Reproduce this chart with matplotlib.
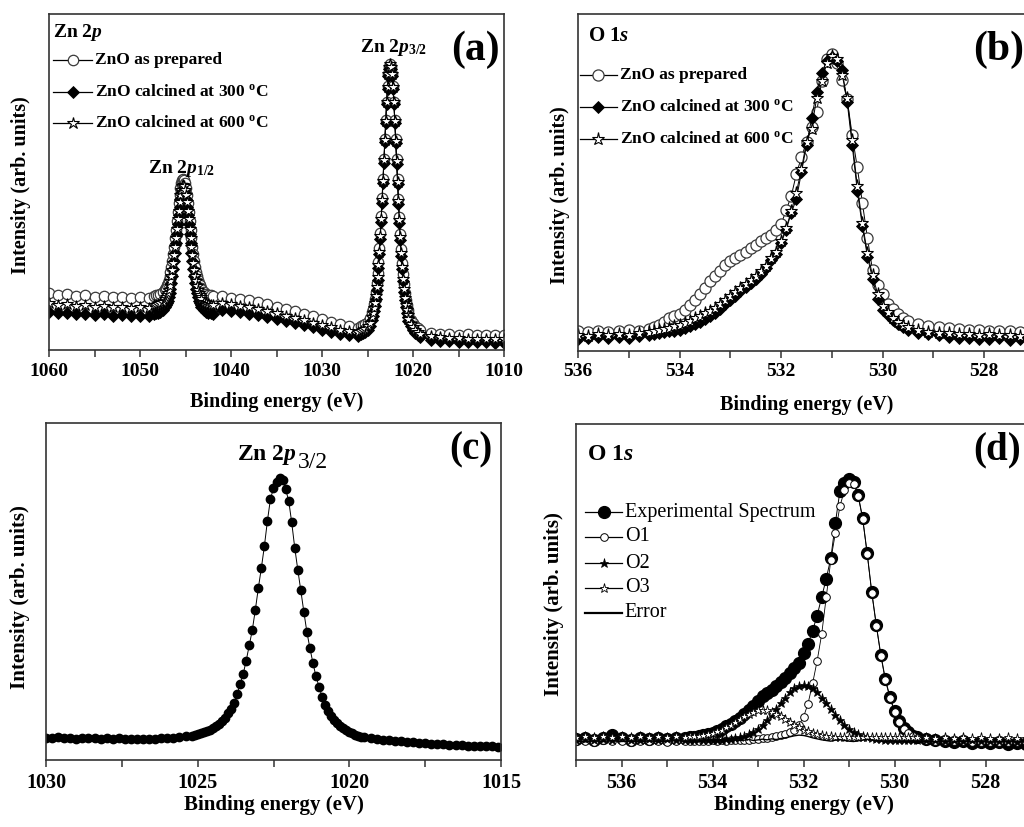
import numpy as np
import matplotlib
matplotlib.use('Agg')
import matplotlib.pyplot as plt
from matplotlib.ticker import MultipleLocator

plt.rcParams['font.family'] = 'Liberation Serif'
plt.rcParams['font.weight'] = 'bold'
plt.rcParams['mathtext.fontset'] = 'custom'
plt.rcParams['mathtext.rm'] = 'Liberation Serif:bold'
plt.rcParams['mathtext.it'] = 'Liberation Serif:italic:bold'
plt.rcParams['mathtext.bf'] = 'Liberation Serif:bold'

# ---------------- (a) Zn 2p survey, three samples ----------------
# coarse steps on the background, finer steps across the two peaks
be_a = np.concatenate([np.arange(1060, 1048.5, -1),
                       np.arange(1048.5, 1047.4, -0.25),
                       np.arange(1047.25, 1043.2, -0.1),
                       np.arange(1043.0, 1041.9, -0.25),
                       np.arange(1041, 1025.9, -1),
                       np.arange(1025.75, 1024.7, -0.25),
                       np.arange(1024.5, 1020.45, -0.1),
                       np.arange(1020.25, 1019.2, -0.25),
                       np.arange(1018, 1009.5, -1)])

zn_prepared = [16.9, 16.5, 16.7, 16.2, 16.4, 15.9, 16.1, 15.7, 15.9, 15.5, 15.7, 15.5,
               16.2, 16.4, 16.5, 16.8, 17.3,
               18.1, 18.6, 19.2, 19.9, 20.8, 21.9, 23.3, 24.8, 26.6, 28.6,
               30.8, 33.3, 35.8, 38.5, 41.1, 43.7, 46.1, 48.1, 49.7, 50.7,
               51.0,
               50.7, 49.7, 48.1, 46.1, 43.7, 41.1, 38.5, 35.8, 33.3, 30.8,
               28.6, 26.6, 24.8, 23.3, 21.9, 20.8, 19.9, 19.2, 18.6, 18.1,
               17.3, 16.8, 16.5, 16.4, 16.2,
               16.0, 15.6, 15.2, 14.8, 14.2, 13.6, 12.9, 12.2, 11.5, 10.8, 10.0, 9.2, 8.4, 7.6, 7.0, 6.6,
               7.1, 7.4, 7.7, 8.4, 9.4,
               11.2, 12.3, 13.7, 15.3, 17.4, 19.9, 22.8, 26.3, 30.3, 34.8,
               39.8, 45.2, 51.0, 56.9, 62.9, 68.6, 73.9, 78.5, 82.0, 84.2,
               85.0,
               84.2, 82.0, 78.5, 73.9, 68.5, 62.8, 56.8, 50.8, 45.0, 39.6,
               34.6, 30.0, 26.0, 22.5, 19.6, 17.1, 15.0, 13.4, 12.0, 10.9,
               9.0, 8.0, 7.2, 6.6, 6.1,
               5.2, 4.9, 4.8, 4.6, 4.7, 4.5, 4.6, 4.4, 4.5]

zn_300 = [11.3, 10.9, 11.1, 10.7, 10.8, 10.4, 10.6, 10.2, 10.4, 10.0, 10.2, 10.0,
          10.8, 11.0, 11.1, 11.4, 11.9,
          12.8, 13.3, 13.9, 14.7, 15.7, 16.9, 18.3, 20.0, 21.9, 24.0,
          26.4, 29.0, 31.8, 34.6, 37.4, 40.2, 42.7, 44.9, 46.6, 47.6,
          48.0,
          47.6, 46.6, 44.9, 42.7, 40.2, 37.4, 34.6, 31.8, 29.0, 26.4,
          24.0, 21.9, 20.0, 18.3, 16.9, 15.7, 14.7, 13.9, 13.3, 12.8,
          11.9, 11.4, 11.1, 11.0, 10.8,
          12.0, 11.6, 11.2, 10.8, 10.3, 9.7, 9.1, 8.5, 7.9, 7.3, 6.7, 6.1, 5.5, 4.9, 4.5, 4.2,
          4.7, 5.0, 5.4, 6.1, 7.1,
          8.9, 10.1, 11.5, 13.2, 15.3, 17.8, 20.8, 24.4, 28.5, 33.1,
          38.2, 43.8, 49.7, 55.8, 61.9, 67.7, 73.2, 77.8, 81.4, 83.7,
          84.5,
          83.7, 81.4, 77.8, 73.1, 67.5, 61.6, 55.5, 49.4, 43.5, 37.9,
          32.8, 28.1, 24.0, 20.4, 17.4, 14.8, 12.8, 11.1, 9.7, 8.6,
          7.0, 5.9, 5.1, 4.4, 3.9,
          3.1, 2.8, 2.6, 2.5, 2.4, 2.3, 2.3, 2.2, 2.2]

zn_600 = [13.9, 13.5, 13.7, 13.2, 13.4, 12.9, 13.1, 12.7, 12.9, 12.5, 12.7, 12.5,
          13.3, 13.4, 13.6, 13.9, 14.3,
          15.2, 15.7, 16.3, 17.1, 18.0, 19.1, 20.5, 22.1, 23.9, 26.0,
          28.3, 30.8, 33.4, 36.1, 38.9, 41.5, 43.9, 46.0, 47.6, 48.7,
          49.0,
          48.7, 47.6, 46.0, 43.9, 41.5, 38.9, 36.1, 33.4, 30.8, 28.3,
          26.0, 23.9, 22.1, 20.5, 19.1, 18.0, 17.1, 16.3, 15.7, 15.2,
          14.3, 13.9, 13.6, 13.4, 13.3,
          14.0, 13.6, 13.2, 12.8, 12.2, 11.6, 10.9, 10.2, 9.5, 8.8, 8.1, 7.4, 6.7, 6.0, 5.6, 5.3,
          5.7, 6.0, 6.3, 7.1, 8.1,
          9.9, 11.0, 12.4, 14.1, 16.2, 18.7, 21.7, 25.2, 29.3, 33.9,
          39.0, 44.5, 50.4, 56.4, 62.5, 68.3, 73.7, 78.4, 82.0, 84.2,
          85.0,
          84.2, 82.0, 78.4, 73.7, 68.2, 62.3, 56.2, 50.1, 44.2, 38.6,
          33.5, 28.8, 24.7, 21.1, 18.1, 15.5, 13.4, 11.8, 10.4, 9.3,
          7.6, 6.7, 5.9, 5.3, 4.9,
          4.1, 3.8, 3.6, 3.5, 3.4, 3.3, 3.3, 3.2, 3.2]

# ---------------- (b) O 1s, three samples ----------------
be_b = np.concatenate([np.arange(536.0, 534.55, -0.2),
                       np.arange(534.5, 529.45, -0.1),
                       np.arange(529.3, 526.0, -0.2)])

o_prepared = [5.8, 5.5, 6.0, 5.7, 5.9, 6.2, 6.0, 6.6,
              7.0, 7.6, 8.6, 9.9, 10.3, 11.0, 12.2, 13.6, 15.2, 16.8,
              18.8, 20.8, 22.3, 23.7, 25.4, 26.7, 27.6, 28.5, 29.5, 30.5,
              31.6, 32.5, 33.4, 34.5, 35.9, 37.6, 41.8, 46.0, 52.5, 57.5,
              62.0, 66.5, 71.0, 80.0, 86.5, 88.0, 85.5, 80.5, 74.8, 64.0,
              54.5, 44.0, 33.5, 24.0, 19.5, 16.8, 14.0, 12.4, 11.0, 9.8,
              9.0,
              7.9, 7.3, 7.0, 6.9, 6.5, 6.3, 6.1, 6.0, 5.8, 6.0, 5.7, 5.6, 5.8, 5.5, 5.6, 5.4, 5.5]

o_300 = [3.5, 3.8, 4.2, 3.9, 4.3, 4.0, 4.4, 4.6,
         5.0, 5.4, 5.6, 5.8, 6.0, 6.3, 6.8, 7.4, 8.0, 8.7,
         9.6, 10.5, 11.4, 12.6, 13.8, 15.0, 16.4, 17.8, 19.0, 20.2,
         21.4, 22.8, 24.5, 27.0, 28.8, 32.0, 36.0, 41.0, 45.0, 53.0,
         61.0, 69.0, 77.0, 82.5, 86.0, 87.2, 86.0, 83.5, 74.0, 61.0,
         47.5, 37.0, 28.0, 21.5, 15.5, 12.2, 10.6, 9.2, 8.0, 7.0,
         6.2,
         5.4, 5.0, 4.6, 4.2, 4.0, 3.8, 3.7, 3.5, 3.9, 3.4, 3.6, 3.3, 3.6, 3.2, 3.5, 3.3, 3.4]

o_600 = [4.8, 4.5, 5.0, 4.6, 5.1, 4.8, 5.2, 5.5,
         5.8, 6.2, 6.5, 6.9, 7.3, 7.8, 8.4, 9.0, 9.7, 10.4,
         11.2, 12.0, 12.9, 13.9, 15.0, 16.2, 17.5, 18.8, 20.0, 21.2,
         22.4, 23.8, 25.3, 27.5, 29.5, 32.5, 36.5, 41.5, 47.0, 54.0,
         62.0, 66.0, 75.0, 80.0, 85.5, 87.5, 86.5, 82.0, 75.0, 62.5,
         49.0, 38.0, 29.0, 22.5, 17.0, 13.5, 11.5, 9.8, 8.6, 7.7,
         7.0,
         6.2, 5.7, 5.4, 5.2, 5.0, 4.9, 4.7, 4.9, 4.6, 4.8, 4.5, 4.7, 4.4, 4.6, 4.4, 4.5, 4.3]

# ---------------- (c) Zn 2p3/2 high resolution ----------------
be_c = np.concatenate([np.arange(1030.0, 1025.1, -0.2),
                       np.arange(1025.1, 1019.45, -0.1),
                       np.arange(1019.3, 1015.0, -0.2)])

zn32 = [6.6, 6.4, 6.7, 6.5, 6.6, 6.3, 6.5, 6.6, 6.4, 6.2, 6.5, 6.3, 6.4,
        6.2, 6.3, 6.1, 6.3, 6.2, 6.3, 6.4, 6.5, 6.6, 6.8, 7.0, 7.2,
        7.4, 7.6, 7.9, 8.2, 8.6, 9.0, 9.5, 10.1, 10.8, 11.6,
        12.6, 13.8, 15.2, 17.0, 19.5, 22.5, 25.5, 29.5, 34.0, 38.5,
        44.5, 51.0, 57.0, 63.5, 71.0, 77.5, 80.6, 82.5,
        83.7,
        83.0, 80.3, 77.0, 70.5, 63.0, 56.5, 50.3, 44.0, 38.0, 33.2,
        28.8, 24.8, 21.8, 18.8, 16.4, 14.6, 13.1, 11.9, 10.9, 10.1,
        9.4, 8.8, 8.3, 7.9, 7.5, 7.2, 6.9, 6.7,
        6.4, 6.2, 6.0, 5.8, 5.6, 5.5, 5.3, 5.2, 5.0, 4.9, 4.8,
        4.7, 4.6, 4.5, 4.5, 4.4, 4.3, 4.3, 4.2, 4.1, 4.1, 4.0]

# ---------------- (d) O 1s deconvolution ----------------
be_d = np.concatenate([np.arange(537.0, 534.55, -0.2),
                       np.arange(534.5, 529.45, -0.1),
                       np.arange(529.3, 526.0, -0.2)])

o_exp = [6.2, 6.6, 6.0, 6.5, 7.3, 6.4, 6.1, 6.5, 6.2, 6.4, 6.3, 6.6, 6.5,
         6.7, 6.8, 7.0, 7.3, 7.7, 8.1, 8.6, 9.2, 10.0, 10.8,
         11.7, 12.6, 13.7, 14.9, 16.2, 17.6, 18.9, 19.8, 20.8, 21.9,
         23.1, 24.3, 25.8, 27.3, 29.0, 31.8, 34.5, 38.5, 43.0, 48.5,
         54.0, 60.0, 70.5, 80.0, 82.5, 83.6, 82.8, 79.0, 72.0, 61.5,
         50.0, 40.2, 31.3, 24.0, 18.8, 14.6, 11.6, 9.6, 8.2, 7.2,
         6.7,
         6.2, 5.9, 5.7, 5.4, 5.6, 5.2, 5.5, 5.0, 5.3, 4.9, 5.2, 4.8, 5.1, 4.7, 5.0, 4.6, 4.9]

o1 = [5.6, 5.8, 5.5, 5.9, 5.6, 5.7, 5.5, 5.8, 5.6, 5.7, 5.5, 5.8, 5.6,
      5.7, 5.8, 5.6, 5.8, 5.7, 5.9, 5.8, 5.9, 5.8, 6.0,
      5.9, 6.0, 6.1, 6.1, 6.2, 6.3, 6.4, 6.6, 6.8, 7.0,
      7.3, 7.7, 8.2, 9.0, 10.4, 12.8, 16.8, 22.8, 29.5, 37.5,
      48.5, 59.5, 67.5, 75.5, 80.3, 82.5, 82.2, 78.6, 71.8, 61.3,
      49.8, 40.0, 31.0, 23.7, 18.5, 14.3, 11.3, 9.3, 7.9, 7.0,
      6.5,
      6.1, 5.8, 5.7, 5.6, 5.6, 5.5, 5.5, 5.4, 5.4, 5.4, 5.3, 5.3, 5.3, 5.2, 5.2, 5.2, 5.1]

o2 = [6.0, 6.3, 5.9, 6.2, 6.0, 6.4, 6.1, 5.9, 6.2, 6.0, 6.3, 6.1, 6.0,
      6.1, 6.0, 6.2, 6.0, 6.1, 6.0, 6.1, 6.1, 6.2, 6.3,
      6.5, 6.7, 7.1, 7.6, 8.4, 9.3, 10.5, 11.9, 13.5, 15.2,
      17.0, 18.6, 20.1, 21.3, 22.0, 22.3, 22.0, 21.3, 20.1, 18.6,
      17.0, 15.2, 13.5, 11.9, 10.5, 9.3, 8.4, 7.6, 7.1, 6.7,
      6.5, 6.3, 6.2, 6.1, 6.0, 6.1, 6.0, 5.9, 6.0, 5.9,
      6.0,
      5.9, 6.0, 5.8, 5.9, 5.7, 5.9, 5.8, 5.6, 5.8, 5.7, 5.5, 5.7, 5.6, 5.5, 5.6, 5.4, 5.5]

o3 = [6.9, 7.1, 6.8, 7.0, 6.9, 7.2, 6.8, 7.0, 6.9, 7.1, 6.8, 7.0, 6.9,
      7.0, 7.0, 7.2, 7.4, 7.6, 8.0, 8.5, 9.0, 9.7, 10.5,
      11.4, 12.2, 13.1, 13.8, 14.4, 14.8, 14.9, 14.8, 14.4, 13.8,
      13.1, 12.2, 11.4, 10.5, 9.7, 9.0, 8.5, 8.0, 7.6, 7.4,
      7.2, 7.0, 6.9, 6.9, 6.8, 6.9, 6.8, 6.9, 6.8, 6.8,
      6.9, 6.8, 6.7, 6.8, 6.7, 6.8, 6.7, 6.8, 6.7, 6.7,
      6.8,
      6.7, 6.6, 6.8, 6.6, 6.7, 6.5, 6.7, 6.6, 6.5, 6.7, 6.5, 6.6, 6.4, 6.6, 6.5, 6.4, 6.5]

o_err = [5.6, 5.4, 5.7, 5.5, 5.8, 5.5, 5.6, 5.4, 5.7, 5.5, 5.6, 5.8, 5.5,
         5.6, 5.7, 5.5, 5.8, 5.6, 5.7, 5.9, 5.6, 5.8, 5.7,
         6.0, 5.8, 5.9, 6.1, 5.8, 6.0, 6.2, 6.0, 6.3, 6.1,
         6.4, 6.6, 6.9, 7.2, 7.4, 7.3, 7.0, 6.6, 6.3, 6.0,
         5.8, 5.6, 5.9, 6.1, 5.8, 5.6, 5.5, 5.7, 5.9, 6.2,
         6.0, 5.8, 5.6, 5.5, 5.7, 5.6, 5.4, 5.6, 5.5, 5.7,
         5.5,
         5.6, 5.4, 5.5, 5.3, 5.6, 5.4, 5.5, 5.3, 5.5, 5.4, 5.6, 5.3, 5.5, 5.4, 5.3, 5.5, 5.4]

for name, xs, ys in [('zn_prepared', be_a, zn_prepared), ('zn_300', be_a, zn_300),
                     ('zn_600', be_a, zn_600), ('o_prepared', be_b, o_prepared),
                     ('o_300', be_b, o_300), ('o_600', be_b, o_600), ('zn32', be_c, zn32),
                     ('o_exp', be_d, o_exp), ('o1', be_d, o1), ('o2', be_d, o2),
                     ('o3', be_d, o3), ('o_err', be_d, o_err)]:
    if len(xs) != len(ys):
        raise ValueError(f'{name}: {len(xs)} energies, {len(ys)} values')

# marker styles
open_circle = dict(marker='o', mfc='white', mec='#3a3a3a', mew=0.9)
diamond = dict(marker='D', mfc='black', mec='black', mew=0.6)
open_star = dict(marker='*', mfc='white', mec='black', mew=0.8)

fig = plt.figure(figsize=(10.24, 8.27), dpi=100)

def make_axes(rect_px, xlim, major, minor, tick_size):
    l, t, r, b = rect_px
    ax = fig.add_axes([l / 1024, (827 - b) / 827, (r - l) / 1024, (b - t) / 827])
    ax.set_xlim(*xlim)
    ax.set_ylim(0, 100)
    ax.set_yticks([])
    ax.xaxis.set_major_locator(MultipleLocator(major))
    ax.xaxis.set_minor_locator(MultipleLocator(minor))
    ax.tick_params(axis='x', which='both', direction='out', length=5, width=1.1,
                   color='#333333', labelsize=tick_size, pad=4)
    for sp in ax.spines.values():
        sp.set_linewidth(1.2)
        sp.set_color('#333333')
    return ax

def axis_labels(ax, xl_y, yl_x, yl_y, size):
    ax.text(0.5, xl_y, 'Binding energy (eV)', transform=ax.transAxes,
            ha='center', va='center', fontsize=size)
    ax.text(yl_x, yl_y, 'Intensity (arb. units)', transform=ax.transAxes,
            rotation=90, ha='center', va='center', fontsize=size)

def legend_row(ax, x0, x1, y, label, size, style=None, ms=7, lw=0.9, weight='bold'):
    ax.plot([x0, x1], [y, y], transform=ax.transAxes, color='black', lw=lw, clip_on=False)
    if style is not None:
        ax.plot([(x0 + x1) / 2], [y], transform=ax.transAxes, linestyle='none',
                ms=ms, clip_on=False, **style)
    ax.text(x1 + 0.006, y, label, transform=ax.transAxes, ha='left', va='center',
            fontsize=size, fontweight=weight)

# (a)
ax = make_axes((49, 14, 504, 350), (1060, 1010), 10, 5, 14)
ax.plot(be_a, zn_prepared, color='black', lw=0.7, ms=7.5, **open_circle)
ax.plot(be_a, zn_300, color='black', lw=0.7, ms=6, **diamond)
ax.plot(be_a, zn_600, color='black', lw=0.7, ms=9, **open_star)
ax.text(0.009, 0.946, r'Zn 2$p$', transform=ax.transAxes, ha='left', va='center', fontsize=14)
legend_row(ax, 0.009, 0.095, 0.863, 'ZnO as prepared', 12.5, open_circle, ms=7.5)
legend_row(ax, 0.009, 0.095, 0.768, r'ZnO calcined at 300 $^{\mathrm{o}}$C', 12.5, diamond, ms=6.5)
legend_row(ax, 0.009, 0.095, 0.676, r'ZnO calcined at 600 $^{\mathrm{o}}$C', 12.5, open_star, ms=9)
ax.text(0.218, 0.527, r'Zn 2$p_{1/2}$', transform=ax.transAxes, ha='left', va='baseline', fontsize=14)
ax.text(0.684, 0.887, r'Zn 2$p_{3/2}$', transform=ax.transAxes, ha='left', va='baseline', fontsize=14)
ax.text(0.991, 0.893, '(a)', transform=ax.transAxes, ha='right', va='center', fontsize=30)
axis_labels(ax, -0.155, -0.0615, 0.491, 14.5)

# (b)
ax = make_axes((578, 14, 1035, 351), (536, 527), 2, 1, 14)
ax.plot(be_b, o_prepared, color='black', lw=0.7, ms=8, **open_circle)
ax.plot(be_b, o_300, color='black', lw=0.7, ms=6.5, **diamond)
ax.plot(be_b, o_600, color='black', lw=0.7, ms=9.5, **open_star)
ax.text(0.022, 0.935, r'O 1$s$', transform=ax.transAxes, ha='left', va='center', fontsize=15)
legend_row(ax, 0.004, 0.085, 0.819, 'ZnO as prepared', 12.5, open_circle, ms=8)
legend_row(ax, 0.004, 0.085, 0.724, r'ZnO calcined at 300 $^{\mathrm{o}}$C', 12.5, diamond, ms=6.5)
legend_row(ax, 0.004, 0.085, 0.629, r'ZnO calcined at 600 $^{\mathrm{o}}$C', 12.5, open_star, ms=9.5)
ax.text(0.864, 0.893, '(b)', transform=ax.transAxes, ha='left', va='center', fontsize=30)
axis_labels(ax, -0.16, -0.039, 0.463, 14.5)

# (c)
ax = make_axes((46, 423, 501, 760), (1030, 1015), 5, 2.5, 14.5)
ax.plot(be_c, zn32, color='black', lw=0.7, marker='o', ms=6, mfc='black', mec='black')
ax.text(0.42, 0.89, r'Zn 2$p$', transform=ax.transAxes, ha='left', va='baseline', fontsize=17)
ax.text(0.553, 0.867, '3/2', transform=ax.transAxes, ha='left', va='baseline', fontsize=17,
        fontweight='normal')
ax.text(0.982, 0.92, '(c)', transform=ax.transAxes, ha='right', va='center', fontsize=28)
axis_labels(ax, -0.134, -0.057, 0.484, 15)

# (d)
ax = make_axes((576, 424, 1031, 760), (537, 527), 2, 1, 14.5)
exp_style = dict(marker='o', mfc='black', mec='black')
o1_style = dict(marker='o', mfc='white', mec='black', mew=0.7)
o2_style = dict(marker='*', mfc='black', mec='black', mew=0.5)
o3_style = dict(marker='*', mfc='white', mec='black', mew=0.6)
ax.plot(be_d, o_exp, color='black', lw=0.7, ms=8.5, **exp_style)
ax.plot(be_d, o1, color='black', lw=0.6, ms=5.5, **o1_style)
ax.plot(be_d, o2, color='black', lw=0.6, ms=6.5, **o2_style)
ax.plot(be_d, o3, color='black', lw=0.6, ms=6.5, **o3_style)
ax.plot(be_d, o_err, color='black', lw=1.0)
ax.text(0.024, 0.908, r'O 1$s$', transform=ax.transAxes, ha='left', va='center', fontsize=17)
legend_row(ax, 0.02, 0.101, 0.738, 'Experimental Spectrum', 14.5, exp_style, ms=8.5, weight='normal')
legend_row(ax, 0.02, 0.101, 0.664, 'O1', 14.5, o1_style, ms=5.5, weight='normal')
legend_row(ax, 0.02, 0.101, 0.586, 'O2', 14.5, o2_style, ms=6.5, weight='normal')
legend_row(ax, 0.02, 0.101, 0.512, 'O3', 14.5, o3_style, ms=6.5, weight='normal')
legend_row(ax, 0.02, 0.101, 0.438, 'Error', 14.5, None, lw=1.6, weight='normal')
ax.text(0.873, 0.923, '(d)', transform=ax.transAxes, ha='left', va='center', fontsize=28)
axis_labels(ax, -0.134, -0.048, 0.464, 15)

fig.savefig('out.png', dpi=100)
